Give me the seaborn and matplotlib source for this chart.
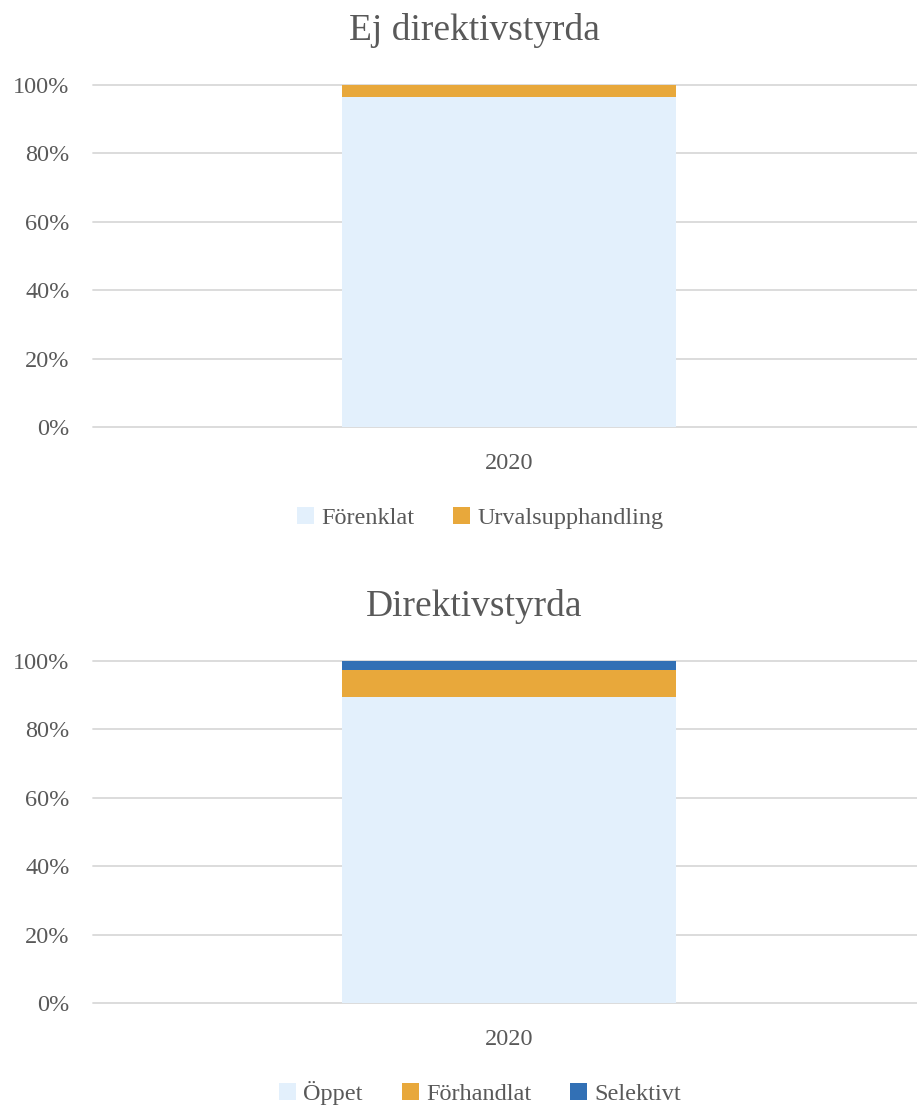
import matplotlib
matplotlib.use("Agg")
import matplotlib.pyplot as plt
import seaborn as sns
import pandas as pd
from matplotlib.patches import Patch
from matplotlib.ticker import PercentFormatter

# data
years = ["2020"]
ej_names = ["Förenklat", "Urvalsupphandling"]
ej_values = [0.965, 0.035]
dir_names = ["Öppet", "Förhandlat", "Selektivt"]
dir_values = [0.895, 0.079, 0.026]

light_blue = "#E3F0FC"
orange = "#E8A83B"
blue = "#3270B5"
text_col = "#595959"
grid_col = "#D9D9D9"

sns.set_theme(style="white")
plt.rcParams["font.family"] = ["Liberation Serif", "DejaVu Serif"]
plt.rcParams["text.color"] = text_col
plt.rcParams["xtick.color"] = text_col
plt.rcParams["ytick.color"] = text_col

fig = plt.figure(figsize=(9.17, 11.06), dpi=100)


def stacked_panel(rect, names, values, colors, title, title_y, legend_y):
    ax = fig.add_axes(rect)
    # cumulative totals, drawn tallest first so smaller ones sit on top
    cum = pd.Series(values).cumsum().tolist()
    for name, top, col in reversed(list(zip(names, cum, colors))):
        df = pd.DataFrame({"year": years, "share": [top]})
        sns.barplot(data=df, x="year", y="share", color=col, width=0.405,
                    saturation=1, linewidth=0, edgecolor=col, ax=ax)
    ax.set_xlim(-0.505, 0.495)
    ax.set_ylim(0, 1.0)
    ax.set_yticks([0, 0.2, 0.4, 0.6, 0.8, 1.0])
    ax.yaxis.set_major_formatter(PercentFormatter(1.0, decimals=0))
    ax.grid(axis="y", color=grid_col, linewidth=1.3)
    ax.set_axisbelow(True)
    for gl in ax.get_ygridlines():
        gl.set_clip_on(False)
    sns.despine(ax=ax, left=True, bottom=True)
    ax.tick_params(axis="y", length=0, pad=17, labelsize=17.5)
    ax.tick_params(axis="x", length=0, pad=19, labelsize=17.5)
    ax.set_xlabel("")
    ax.set_ylabel("")
    fig.text(474 / 917, title_y, title, ha="center", va="center",
             fontsize=27, color=text_col)
    handles = [Patch(facecolor=c, edgecolor="none", label=n)
               for n, c in zip(names, colors)]
    fig.legend(handles=handles, loc="center", bbox_to_anchor=(480 / 917, legend_y),
               ncol=len(names), frameon=False, fontsize=17.5,
               handlelength=0.7, handleheight=0.7, handletextpad=0.3,
               columnspacing=1.6)
    return ax


stacked_panel([93 / 917, (1106 - 427) / 1106, 824 / 917, 342 / 1106],
              ej_names, ej_values, [light_blue, orange],
              "Ej direktivstyrda", 1 - 30 / 1106, 1 - 518 / 1106)
stacked_panel([93 / 917, (1106 - 1003) / 1106, 824 / 917, 342 / 1106],
              dir_names, dir_values, [light_blue, orange, blue],
              "Direktivstyrda", 1 - 606 / 1106, 1 - 1093 / 1106)

fig.savefig("out.png", dpi=100)
